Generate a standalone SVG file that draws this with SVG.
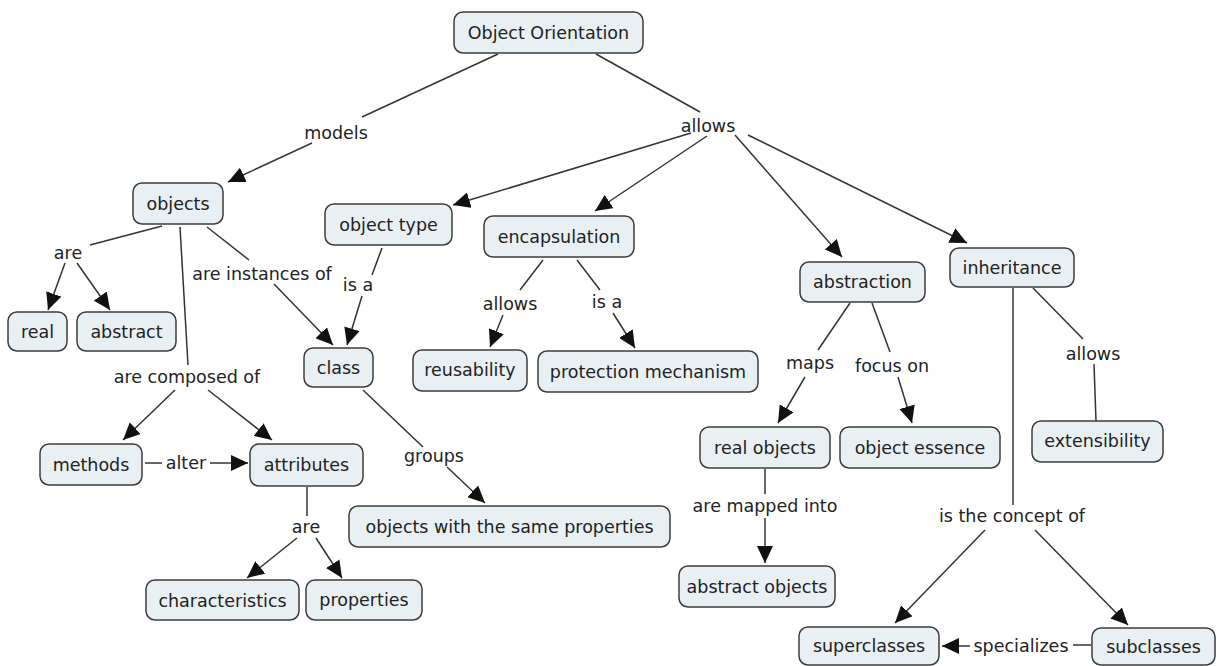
<svg xmlns="http://www.w3.org/2000/svg" width="1217" height="666" viewBox="0 0 1217 666">
  <defs>
    <marker id="arrow" markerUnits="userSpaceOnUse" markerWidth="18" markerHeight="16" refX="17" refY="8" orient="auto">
      <path d="M0,0 L17,8 L0,16 z" fill="#111"/>
    </marker>
    <style>
      .node rect { fill: #e9f0f4; stroke: #3c3c3c; stroke-width: 1.5; }
      text { font-family: "DejaVu Sans", Verdana, sans-serif; font-size: 17.5px; fill: #222; text-anchor: middle; dominant-baseline: central; }
      .links line { stroke: #333; stroke-width: 1.5; fill: none; }
      .links line.arr { marker-end: url(#arrow); }
    </style>
  </defs>
  <rect width="1217" height="666" fill="#fff"/>

  <!-- connectors -->
  <g id="connectors" class="links">
    <line x1="498" y1="54" x2="362" y2="117"/>
    <line class="arr" x1="312" y1="143" x2="228" y2="182"/>
    <line x1="596" y1="54" x2="700" y2="112"/>
    <line class="arr" x1="691" y1="133" x2="453" y2="205"/>
    <line class="arr" x1="707" y1="136" x2="595" y2="211"/>
    <line class="arr" x1="735" y1="135" x2="842" y2="257"/>
    <line class="arr" x1="748" y1="135" x2="967" y2="243"/>
    <line x1="162" y1="226" x2="90" y2="245"/>
    <line class="arr" x1="65" y1="263" x2="48" y2="310"/>
    <line class="arr" x1="77" y1="263" x2="110" y2="310"/>
    <line x1="207" y1="227" x2="249" y2="260"/>
    <line class="arr" x1="274" y1="284" x2="333" y2="345"/>
    <line x1="382" y1="248" x2="372" y2="275"/>
    <line class="arr" x1="362" y1="296" x2="347" y2="345"/>
    <line x1="180" y1="227" x2="188" y2="365"/>
    <line class="arr" x1="175" y1="390" x2="123" y2="440"/>
    <line class="arr" x1="208" y1="390" x2="272" y2="440"/>
    <line x1="145" y1="463" x2="162" y2="463"/>
    <line class="arr" x1="210" y1="463" x2="248" y2="463"/>
    <line x1="363" y1="390" x2="423" y2="447"/>
    <line class="arr" x1="447" y1="467" x2="485" y2="503"/>
    <line x1="307" y1="487" x2="307" y2="516"/>
    <line class="arr" x1="297" y1="538" x2="247" y2="578"/>
    <line class="arr" x1="316" y1="538" x2="342" y2="578"/>
    <line x1="543" y1="260" x2="520" y2="290"/>
    <line class="arr" x1="503" y1="315" x2="490" y2="347"/>
    <line x1="577" y1="260" x2="600" y2="290"/>
    <line class="arr" x1="613" y1="313" x2="635" y2="348"/>
    <line x1="850" y1="303" x2="818" y2="350"/>
    <line class="arr" x1="805" y1="377" x2="778" y2="423"/>
    <line x1="872" y1="303" x2="890" y2="352"/>
    <line class="arr" x1="898" y1="377" x2="912" y2="423"/>
    <line x1="765" y1="469" x2="765" y2="494"/>
    <line class="arr" x1="765" y1="518" x2="765" y2="563"/>
    <line x1="1013" y1="288" x2="1013" y2="505"/>
    <line x1="1033" y1="288" x2="1083" y2="339"/>
    <line x1="1094" y1="364" x2="1096" y2="421"/>
    <line class="arr" x1="985" y1="530" x2="895" y2="623"/>
    <line class="arr" x1="1035" y1="530" x2="1128" y2="625"/>
    <line x1="1091" y1="645" x2="1073" y2="645"/>
    <line class="arr" x1="970" y1="646" x2="942" y2="646"/>
  </g>

  <!-- link phrases -->
  <g id="link-labels">
    <text x="336" y="133">models</text>
    <text x="708" y="126">allows</text>
    <text x="68" y="253">are</text>
    <text x="262" y="274">are instances of</text>
    <text x="358" y="285">is a</text>
    <text x="510" y="304">allows</text>
    <text x="607" y="302">is a</text>
    <text x="187" y="377">are composed of</text>
    <text x="186" y="463">alter</text>
    <text x="434" y="456">groups</text>
    <text x="810" y="363">maps</text>
    <text x="892" y="366">focus on</text>
    <text x="1093" y="354">allows</text>
    <text x="765" y="506">are mapped into</text>
    <text x="306" y="527">are</text>
    <text x="1012" y="516">is the concept of</text>
    <text x="1021" y="646">specializes</text>
  </g>

  <!-- concepts -->
  <g id="n-object-orientation" class="node"><rect x="454" y="12" width="189" height="41" rx="9"/><text x="548.5" y="33">Object Orientation</text></g>
  <g id="n-objects" class="node"><rect x="133" y="183" width="90" height="41" rx="9"/><text x="178" y="204">objects</text></g>
  <g id="n-object-type" class="node"><rect x="325" y="204" width="127" height="41" rx="9"/><text x="388.5" y="225">object type</text></g>
  <g id="n-encapsulation" class="node"><rect x="484" y="216" width="150" height="41" rx="9"/><text x="559" y="237">encapsulation</text></g>
  <g id="n-abstraction" class="node"><rect x="800" y="262" width="125" height="40" rx="9"/><text x="862.5" y="282">abstraction</text></g>
  <g id="n-inheritance" class="node"><rect x="950" y="248" width="124" height="39" rx="9"/><text x="1012" y="268">inheritance</text></g>
  <g id="n-real" class="node"><rect x="8" y="312" width="59" height="39" rx="9"/><text x="37.5" y="332">real</text></g>
  <g id="n-abstract" class="node"><rect x="77" y="312" width="99" height="39" rx="9"/><text x="126.5" y="332">abstract</text></g>
  <g id="n-class" class="node"><rect x="304" y="348" width="69" height="39" rx="9"/><text x="338.5" y="368">class</text></g>
  <g id="n-reusability" class="node"><rect x="413" y="350" width="114" height="41" rx="9"/><text x="470" y="370">reusability</text></g>
  <g id="n-protection" class="node"><rect x="538" y="351" width="220" height="41" rx="9"/><text x="648" y="372">protection mechanism</text></g>
  <g id="n-methods" class="node"><rect x="40" y="444" width="102" height="41" rx="9"/><text x="91" y="465">methods</text></g>
  <g id="n-attributes" class="node"><rect x="250" y="444" width="113" height="42" rx="9"/><text x="306.5" y="465">attributes</text></g>
  <g id="n-objects-same" class="node"><rect x="349" y="506" width="321" height="41" rx="9"/><text x="509.5" y="527">objects with the same properties</text></g>
  <g id="n-real-objects" class="node"><rect x="700" y="427" width="130" height="41" rx="9"/><text x="765" y="448">real objects</text></g>
  <g id="n-object-essence" class="node"><rect x="840" y="427" width="160" height="41" rx="9"/><text x="920" y="448">object essence</text></g>
  <g id="n-extensibility" class="node"><rect x="1032" y="421" width="131" height="41" rx="9"/><text x="1097.5" y="441">extensibility</text></g>
  <g id="n-characteristics" class="node"><rect x="146" y="580" width="153" height="40" rx="9"/><text x="222.5" y="601">characteristics</text></g>
  <g id="n-properties" class="node"><rect x="306" y="580" width="116" height="40" rx="9"/><text x="364" y="600">properties</text></g>
  <g id="n-abstract-objects" class="node"><rect x="679" y="566" width="156" height="41" rx="9"/><text x="757" y="587">abstract objects</text></g>
  <g id="n-superclasses" class="node"><rect x="799" y="627" width="140" height="38" rx="9"/><text x="869" y="646">superclasses</text></g>
  <g id="n-subclasses" class="node"><rect x="1092" y="628" width="123" height="37" rx="9"/><text x="1153.5" y="647">subclasses</text></g>
</svg>
